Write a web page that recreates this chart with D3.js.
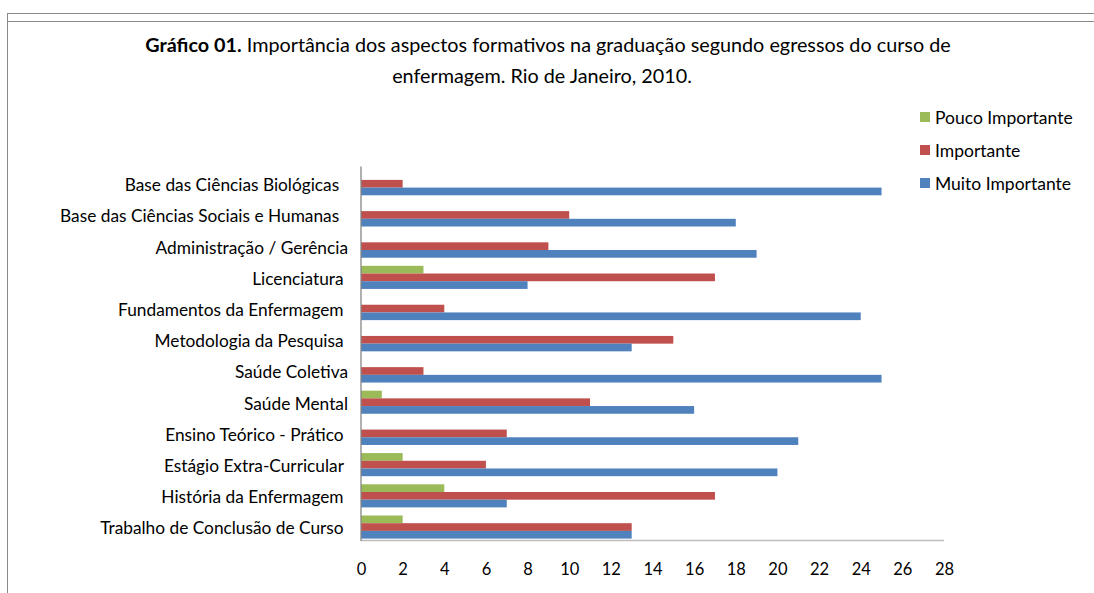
<!DOCTYPE html>
<html><head><meta charset="utf-8">
<script src="https://cdn.jsdelivr.net/npm/d3@7"></script>
<style>
body{margin:0;background:#fff;}
svg{display:block;}
text{font-family:Lato,"Open Sans",sans-serif;fill:#000;}
</style></head>
<body>
<svg id="c" width="1094" height="593"></svg>
<script>
const categories = ["Base das Ciências Biológicas  ","Base das Ciências Sociais e Humanas  ","Administração / Gerência","Licenciatura ","Fundamentos da Enfermagem ","Metodologia da Pesquisa ","Saúde Coletiva","Saúde Mental","Ensino Teórico - Prático ","Estágio Extra-Curricular ","História da Enfermagem ","Trabalho de Conclusão de Curso "];
const seriesNames = ["Pouco Importante","Importante","Muito Importante"];
const pouco = [0,0,0,3,0,0,0,1,0,2,4,2];
const importante = [2,10,9,17,4,15,3,11,7,6,17,13];
const muito = [25,18,19,8,24,13,25,16,21,20,7,13];
const colors = ["#9BBB59","#C0504D","#4F81BD"];
const ticks = [0,2,4,6,8,10,12,14,16,18,20,22,24,26,28];

const svg = d3.select("#c");
// frame lines
svg.append("line").attr("x1",7.5).attr("x2",1094).attr("y1",13.5).attr("y2",13.5).attr("stroke","#8a8a8a");
svg.append("line").attr("x1",7.5).attr("x2",1094).attr("y1",21.5).attr("y2",21.5).attr("stroke","#8a8a8a");
svg.append("line").attr("x1",7.5).attr("x2",7.5).attr("y1",13).attr("y2",593).attr("stroke","#8a8a8a");

// title
const t1 = svg.append("text").attr("x",548).attr("y",51.5).attr("text-anchor","middle").style("font-size","19.8px");
t1.append("tspan").attr("font-weight","bold").text("Gráfico 01.");
t1.append("tspan").text(" Importância dos aspectos formativos na graduação segundo egressos do curso de");
svg.append("text").attr("x",542).attr("y",82.5).attr("text-anchor","middle").style("font-size","19.8px").text("enfermagem. Rio de Janeiro, 2010.");

const x = d3.scaleLinear().domain([0,28]).range([361,944]);
const y = d3.scaleBand().domain(categories).range([166,540.5]);
const ySub = d3.scaleBand().domain(seriesNames).range([6.2,29.3]);

const data = [pouco, importante, muito];
data.forEach((vals,si)=>{
  svg.append("g").selectAll("rect").data(vals).join("rect")
    .attr("x",x(0))
    .attr("y",(d,i)=>y(categories[i])+ySub(seriesNames[si]))
    .attr("width",d=>x(d)-x(0))
    .attr("height",ySub.bandwidth())
    .attr("fill",colors[si]);
});

// axes
svg.append("line").attr("x1",x(0)).attr("x2",x(28)).attr("y1",540.5).attr("y2",540.5).attr("stroke","#bdbdbd").attr("stroke-width",1.3);
svg.append("line").attr("x1",361).attr("x2",361).attr("y1",166.5).attr("y2",541).attr("stroke","#868686").attr("stroke-width",1.3);

const xAxis = d3.axisBottom(x).tickValues(ticks).tickSize(0).tickPadding(0);
const gx = svg.append("g").attr("transform","translate(0,575)").call(xAxis);
gx.select(".domain").remove();
gx.selectAll("text").attr("dy",0).style("font-size","16.5px").style("font-family","Lato,'Open Sans',sans-serif").attr("fill","#000");

// category labels
svg.append("g").selectAll("text").data(categories).join("text")
  .attr("x",348).attr("y",d=>y(d)+y.bandwidth()/2+3.5).attr("dy","0.35em")
  .attr("text-anchor","end").style("font-size","17.3px").style("white-space","pre").text(d=>d);

// legend
const lg = svg.append("g");
seriesNames.forEach((s,i)=>{
  lg.append("rect").attr("x",920).attr("y",112+i*33).attr("width",10).attr("height",10).attr("fill",colors[i]);
  lg.append("text").attr("x",935).attr("y",118+i*33).attr("dy","0.35em").style("font-size","17.5px").text(s);
});
</script>
</body></html>
